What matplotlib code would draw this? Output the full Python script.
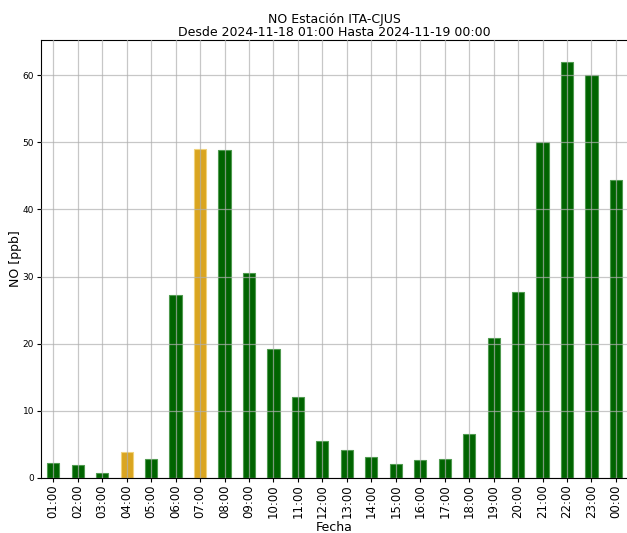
import matplotlib
matplotlib.use("Agg")
import matplotlib.pyplot as plt
import numpy as np

horas = ["01:00", "02:00", "03:00", "04:00", "05:00", "06:00", "07:00", "08:00",
         "09:00", "10:00", "11:00", "12:00", "13:00", "14:00", "15:00", "16:00",
         "17:00", "18:00", "19:00", "20:00", "21:00", "22:00", "23:00", "00:00"]
no_ppb = [2.3, 2.0, 0.8, 3.9, 2.8, 27.3, 49.0, 48.8,
          30.5, 19.2, 12.0, 5.5, 4.1, 3.1, 2.1, 2.7,
          2.8, 6.5, 20.8, 27.7, 50.0, 62.0, 60.0, 44.4]
# horas marcadas (datos no validados)
marcadas = ["04:00", "07:00"]

colores = ["goldenrod" if h in marcadas else "darkgreen" for h in horas]
bordes = ["#f0d27a" if h in marcadas else "#4f9a4f" for h in horas]

fig = plt.figure(figsize=(6.27, 5.33), dpi=100)
ax = fig.add_axes([0.0654, 0.1032, 0.9365, 0.8218])

x = np.arange(len(horas))
ax.bar(x, no_ppb, width=0.5, color=colores, edgecolor=bordes, linewidth=0.8)
ax.set_xlim(-0.5, len(horas) - 0.5)
ax.set_ylim(0, max(no_ppb) * 1.052)
ax.set_xticks(x)
ax.set_xticklabels(horas, rotation=90, fontsize=8.5)
ax.tick_params(axis="x", length=3, pad=1.5)
ax.tick_params(axis="y", labelsize=6.5, length=3, pad=2)
ax.grid(True, color="#b0b0b0", alpha=0.7, linewidth=0.9)
ax.set_axisbelow(False)
ax.set_xlabel("Fecha", fontsize=9)
ax.set_ylabel("NO [ppb]", fontsize=9)
ax.yaxis.set_label_coords(-0.032, 0.5)
ax.xaxis.set_label_coords(0.5, -0.098)
ax.set_title("NO Estación ITA-CJUS\nDesde 2024-11-18 01:00 Hasta 2024-11-19 00:00",
             fontsize=9, pad=3, linespacing=1.0)
fig.savefig("out.png", dpi=100)
